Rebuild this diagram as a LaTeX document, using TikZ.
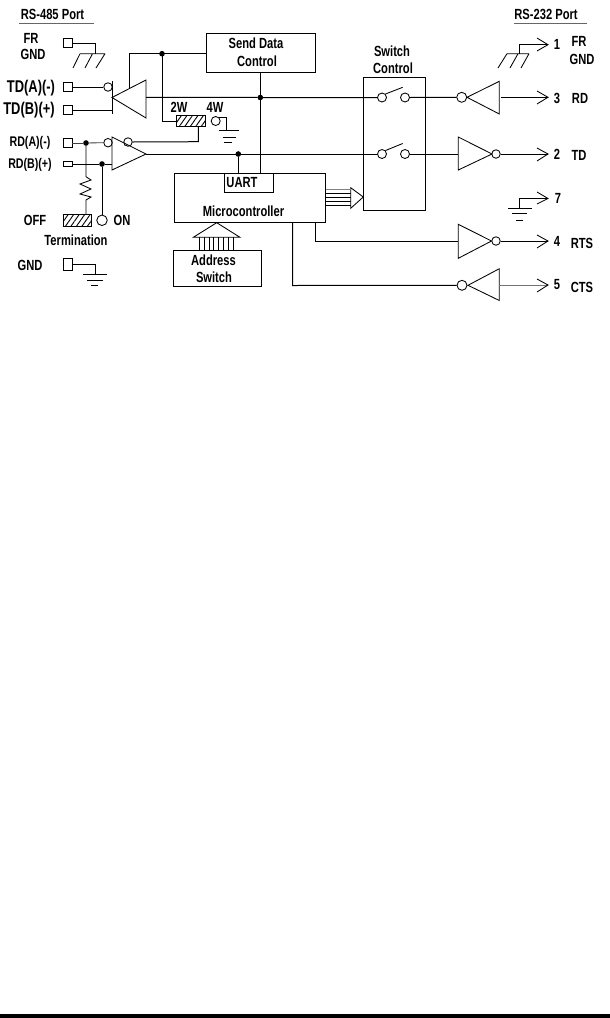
\documentclass[tikz,border=0pt]{standalone}
\usepackage{fontspec}
\usetikzlibrary{patterns.meta}
\setmainfont{Liberation Sans}[FakeStretch=0.76]
\begin{document}
\begin{tikzpicture}[x=1pt,y=-1pt,line width=1pt,line cap=butt,
  lab/.style={inner sep=0pt,font=\fontsize{14.7}{15}\selectfont\bfseries,align=center},
  big/.style={inner sep=0pt,font=\fontsize{17}{17}\selectfont\bfseries,align=center},
  sm/.style={inner sep=0pt,font=\fontsize{14}{15}\selectfont\bfseries,align=center},
  pad/.style={draw,rectangle,minimum width=9pt,minimum height=9.5pt,inner sep=0pt,line width=0.85pt},
  bx/.style={draw,rectangle,inner sep=0pt,line width=1pt},
  dotn/.style={circle,fill,draw,minimum size=4.5pt,inner sep=0pt},
  inv/.style={draw,circle,minimum size=8.5pt,inner sep=0pt,line width=0.85pt},
  hatchbox/.style={draw,rectangle,inner sep=0pt,line width=1pt,pattern={Lines[angle=55,distance=4.5pt,line width=0.9pt]}},
  open/.style={line width=0.85pt},
  rule/.style={draw=black!60,line width=0.9pt},
  gnd/.style={line width=0.85pt}]
\useasboundingbox (0,0) rectangle (610,1018);
\fill[white] (0,0) rectangle (610,1018);
\fill[black] (0,1014) rectangle (610,1018);

% headers
\node[lab] (h485) at (52.5,14) {RS-485 Port};
\node[lab] (h232) at (546,14) {RS-232 Port};
\coordinate (r1a) at (19,23.5); \coordinate (r1b) at (94,23.5);
\coordinate (r2a) at (514,23.5); \coordinate (r2b) at (587,23.5);
\draw[rule] (r1a) -- (r1b);
\draw[rule] (r2a) -- (r2b);

% left labels
\node[lab] (lfr) at (31,38) {FR};
\node[lab] (lgnd) at (33,54) {GND};
\node[big] (ltda) at (31,88.5) {TD(A)(-)};
\node[big] (ltdb) at (29,110.5) {TD(B)(+)};
\node[sm] (lrda) at (30,142.5) {RD(A)(-)};
\node[sm] (lrdb) at (30,165) {RD(B)(+)};
\node[lab] (loff) at (35,220) {OFF};
\node[lab] (lon) at (122,220) {ON};
\node[lab] (lterm) at (76,240) {Termination};
\node[lab] (lgnd2) at (30,265) {GND};

% pads
\node[pad] (pfr) at (67.5,43) {};
\node[pad] (ptda) at (67.5,87) {};
\node[pad] (ptdb) at (67.5,110) {};
\node[pad] (prda) at (67.5,143) {};
\node[pad,minimum height=5pt] (prdb) at (67.5,164) {};
\node[pad,minimum height=12pt] (pgnd) at (67.5,264) {};

% FR ground left
\coordinate (gfr) at (95,53.7);
\coordinate (gfra) at (80,53.7); \coordinate (gfrb) at (105,53.7);
\draw[open] (pfr.east) -| (gfr);
\draw[gnd] (gfra) -- (gfrb) (gfra) -- (73,68) (92.5,53.7) -- (85,68) (gfrb) -- (96,68);

% GND ground left
\coordinate (gg) at (95,274.3);
\draw[open] (pgnd.east) -| (gg);
\draw[gnd] (83,274.3) -- (107,274.3) (87,280) -- (103,280) (91,285.7) -- (98,285.7);

% boxes
\node[bx,minimum width=109.7pt,minimum height=39pt] (send) at (260.85,52.8) {};
\node[lab] (lsend1) at (256,43.5) {Send Data};
\node[lab] (lsend2) at (257,61) {Control};
\node[bx,minimum width=62pt,minimum height=133.4pt] (swc) at (394.3,144) {};
\node[lab] (lsw1) at (392,51) {Switch};
\node[lab] (lsw2) at (393,68) {Control};
\node[bx,minimum width=151pt,minimum height=48.6pt] (mcu) at (250.2,198) {};
\node[bx,minimum width=49.4pt,minimum height=19pt] (uart) at (249,183.2) {};
\node[lab] (luart) at (242,183) {UART};
\node[lab] (lmcu) at (243.5,211) {Microcontroller};
\node[bx,minimum width=88pt,minimum height=36.4pt] (addr) at (217.3,268.5) {};
\node[lab] (laddr1) at (213.5,260) {Address};
\node[lab] (laddr2) at (214,277) {Switch};

% TD driver
\coordinate (tdtip) at (112,97.5);
\coordinate (tdtop) at (146,80); \coordinate (tdbot) at (146,118); \coordinate (tdbase) at (146,97.3);
\draw[open] (tdtip) -- (tdtop) -- (tdbot) -- cycle;
\coordinate (barT) at (112,81); \coordinate (barB) at (112,113.5);
\draw[open] (barT) -- (barB);
\node[inv] (ctda) at (108,87) {};
\draw[open] (ptda.east) -- (ctda.west);
\coordinate (tdb) at (112,110);
\draw[open] (ptdb.east) -- (tdb);

% enable line
\coordinate (en) at (129,88);
\node[dotn] (d1) at (162,53.7) {};
\coordinate (enk) at (129,53.7);
\draw (en) -- (enk) -- (send.west |- enk);

% 2W 4W
\node[lab] (l2w) at (179,107) {2W};
\node[lab] (l4w) at (215,107) {4W};
\node[hatchbox,minimum width=29pt,minimum height=11pt] (j1) at (191.2,121.2) {};
\node[inv,minimum size=9pt] (c4w) at (215.7,121) {};
\coordinate (g4w) at (226.7,130);
\draw[open] (c4w.north east) -| (g4w);
\draw[gnd] (219,130) -- (239,130) (222.7,137) -- (236,137) (224,142) -- (232,142);
\coordinate (j1k) at (162,121.2);
\draw (d1) -- (j1k) -- (j1.west);

% RD receiver
\coordinate (rdtip) at (146,154);
\coordinate (rdtop) at (112,137); \coordinate (rdbot) at (112,170);
\draw[open] (rdtip) -- (rdtop) -- (rdbot) -- cycle;
\node[inv] (crda) at (108,142.7) {};
\node[inv] (crdo) at (128,142) {};
\coordinate (rdo) at (124.5,144.5);
\draw[open] (crdo.south west) -- (rdo);
\node[dotn] (d2) at (86,143) {};
\node[dotn] (d3) at (102,164) {};
\draw[black!75,open] (prda.east) -- (d2);
\draw[black!75,open] (d2) -- (crda.west);
\coordinate (rdb) at (112,164);
\draw[open] (prdb.east) -- (d3) -- (rdb);

% termination
\node[hatchbox,minimum width=28.7pt,minimum height=12.4pt] (j2) at (77.4,220.5) {};
\node[inv,minimum size=10.5pt] (con) at (102,220.3) {};
\coordinate (zz0) at (86,176.7); \coordinate (zz1) at (86,200);
\draw[open] (d2) -- (zz0) -- (91,180) -- (80,184) -- (91,189) -- (80,194) -- (91,197) -- (zz1) -- (j2.north -| zz1);
\draw (d3) -- (con.north);

% internal lines
\coordinate (lineRD) at (198.3,141.7);
\draw (crdo.east) -- (lineRD) -- (j1.south -| lineRD);
\node[dotn] (d4) at (238.3,154) {};
\node[dotn] (d5) at (260.3,97.5) {};
\draw (send.south -| d5) -- (uart.north -| d5);
\draw (d4) -- (uart.north -| d4);
\draw (rdtip) -- (d4);

% switches
\node[inv,minimum size=9pt] (s1l) at (382,97.5) {};
\node[inv,minimum size=9pt] (s1r) at (405,97.5) {};
\node[inv,minimum size=9pt] (s2l) at (382,154) {};
\node[inv,minimum size=9pt] (s2r) at (405,154) {};
\coordinate (b1) at (402.7,87.3); \coordinate (b2) at (402.7,143.5);
\draw[open] (s1l.north east) -- (b1);
\draw[open] (s2l.north east) -- (b2);
\draw (tdbase) -- (d5) -- (s1l.west);
\draw (d4) -- (s2l.west);

% RD out
\node[inv,minimum size=10pt] (cRD) at (461.7,97.3) {};
\coordinate (t3tip) at (467,97.3); \coordinate (t3top) at (499.3,81.3); \coordinate (t3bot) at (499.3,114);
\draw[open] (t3tip) -- (t3top) -- (t3bot) -- cycle;
\draw (s1r.east) -- (cRD.west);
\coordinate (a3) at (548,97.3); \coordinate (s3) at (501,97.3);
\draw (s3) -- (a3);
\draw[open] (537,91) -- (a3) -- (537,104);

% TD out
\coordinate (t2tip) at (492,154); \coordinate (t2top) at (458.3,137); \coordinate (t2bot) at (458.3,170);
\draw[open] (t2tip) -- (t2top) -- (t2bot) -- cycle;
\node[inv] (cTD) at (496,154) {};
\coordinate (a2) at (548,154); \coordinate (t2in) at (458.3,154);
\draw (s2r.east) -- (t2in);
\draw (cTD.east) -- (a2);
\draw[open] (537,148) -- (a2) -- (537,161);

% pin 1
\coordinate (a1) at (548,44.7); \coordinate (g1) at (519.3,53.7);
\draw[open] (g1) |- (a1);
\draw[open] (537,38) -- (a1) -- (537,51);
\draw[gnd] (507,53.7) -- (529,53.7) (507,53.7) -- (498,68) (518,53.7) -- (510,68) (529,53.7) -- (521,68);

% pin 7
\coordinate (a7) at (548,198.5); \coordinate (g7) at (519.3,208.3);
\draw[open] (g7) |- (a7);
\draw[open] (537,192) -- (a7) -- (537,204);
\draw[gnd] (508,208.3) -- (531.7,208.3) (512,213.3) -- (527,213.3) (516,220) -- (523,220);

% RTS
\coordinate (t4tip) at (491.5,241); \coordinate (t4top) at (458.3,224.3); \coordinate (t4bot) at (458.3,258.3);
\draw[open] (t4tip) -- (t4top) -- (t4bot) -- cycle;
\node[inv] (cRTS) at (496,241) {};
\coordinate (a4) at (548,241); \coordinate (t4in) at (458.3,241);
\coordinate (m4) at (315.7,241);
\draw (mcu.south -| m4) -- (m4) -- (t4in);
\draw (cRTS.east) -- (a4);
\draw[open] (537,235) -- (a4) -- (537,248);

% CTS
\node[inv,minimum size=10pt] (cCTS) at (462,285.3) {};
\coordinate (t5tip) at (468,285.3); \coordinate (t5top) at (499.3,268.7); \coordinate (t5bot) at (499.3,300.5);
\draw[open] (t5tip) -- (t5top) -- (t5bot) -- cycle;
\coordinate (m5) at (292.7,285.5);
\draw (mcu.south -| m5) -- (m5) -- (cCTS.west);
\coordinate (a5) at (548,285); \coordinate (s5) at (499.3,285);
\draw[black!55] (s5) -- (a5);
\draw[open] (537,279) -- (a5) -- (537,292);

% right labels
\node[lab] (n1) at (557,44) {1};
\node[lab] (lfr2) at (579,41) {FR};
\node[lab] (lgnd3) at (582,59) {GND};
\node[lab] (n3) at (557,98) {3};
\node[lab] (lrd) at (580,98.5) {RD};
\node[lab] (n2) at (557,154) {2};
\node[lab] (ltd) at (579,155.5) {TD};
\node[lab] (n7) at (558,198) {7};
\node[lab] (n4) at (557,241) {4};
\node[lab] (lrts) at (582,243) {RTS};
\node[lab] (n5) at (557,285) {5};
\node[lab] (lcts) at (582,287) {CTS};

% bus to switch control
\coordinate (bt) at (350.7,187.7); \coordinate (bb) at (350.7,208.3); \coordinate (btip) at (363.3,197);
\draw[open] (bt) -- (btip) -- (bb) -- cycle;
\foreach \y/\c in {189.3/50,193.3/100,197.3/100,201.2/100,205/100}
  \draw[black!\c,open] (325.7,\y) -- (350.7,\y);

% address bus
\coordinate (rA) at (216.7,222.7); \coordinate (rL) at (193.3,237.3); \coordinate (rR) at (240,237.3);
\draw[open] (rL) -- (rA) -- (rR) -- cycle;
\foreach \x in {199.3,204.2,209,213.9,218.8,223.6,228.5,233.3}
  \draw[open] (\x,237.3) -- (\x,250.3);
\end{tikzpicture}
\end{document}
